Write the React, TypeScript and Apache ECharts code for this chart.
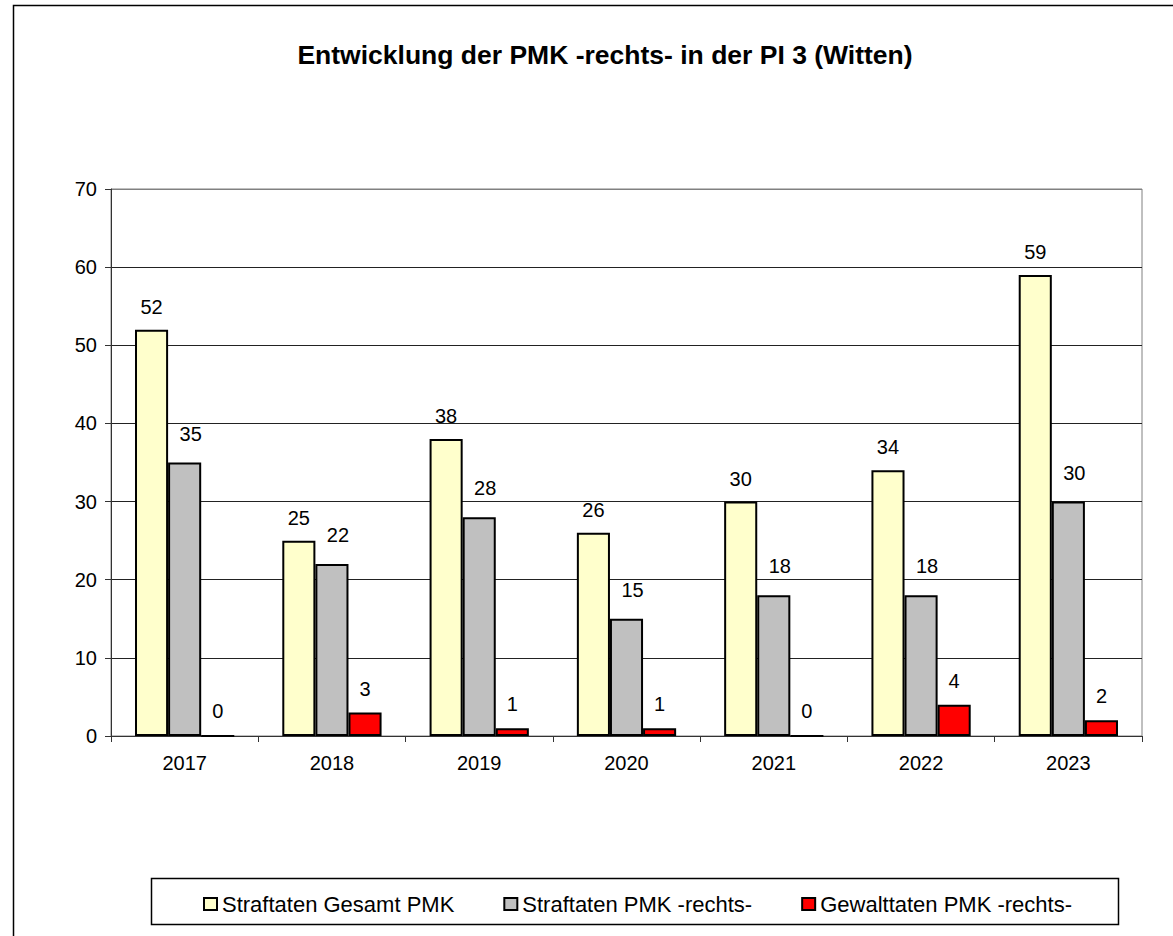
import React, { useEffect, useRef } from "react";
import * as echarts from "echarts";

const years = ["2017", "2018", "2019", "2020", "2021", "2022", "2023"];
const gesamt = [52, 25, 38, 26, 30, 34, 59];
const rechts = [35, 22, 28, 15, 18, 18, 30];
const gewalt = [0, 3, 1, 1, 0, 4, 2];
const seriesNames = ["Straftaten Gesamt PMK", "Straftaten PMK -rechts-", "Gewalttaten PMK -rechts-"];
const titleText = "Entwicklung der PMK -rechts- in der PI 3 (Witten)";

const FONT = "'Liberation Sans', Arial, sans-serif";

export default function App() {
  const ref = useRef<HTMLDivElement>(null);
  useEffect(() => {
    if (!ref.current) return;
    const chart = echarts.init(ref.current, undefined, { renderer: "svg" });
    const labelBase = { show: true, position: "top", color: "#000", fontSize: 20, fontFamily: FONT };
    const barBase = { type: "bar", barGap: "0%", barCategoryGap: "32.6%" };
    chart.setOption({
      animation: false,
      backgroundColor: "#fff",
      textStyle: { fontFamily: FONT },
      title: {
        text: titleText,
        left: 600,
        top: 36,
        textAlign: "center",
        textStyle: { fontSize: 26.5, fontWeight: "bold", color: "#000", fontFamily: FONT },
      },
      legend: {
        data: seriesNames,
        left: 198,
        top: 888,
        icon: "rect",
        itemWidth: 13,
        itemHeight: 12,
        itemGap: 49,
        textStyle: { fontSize: 22, color: "#000", fontFamily: FONT },
      },
      grid: { left: 111, right: 31, top: 189, bottom: 200, show: true, borderColor: "#808080", borderWidth: 1 },
      xAxis: {
        type: "category",
        data: years,
        axisLine: { lineStyle: { color: "#333", width: 1 } },
        axisTick: { show: true, length: 6, lineStyle: { color: "#333" } },
        axisLabel: { fontSize: 20, color: "#000", margin: 17, fontFamily: FONT },
      },
      yAxis: {
        type: "value",
        min: 0,
        max: 70,
        interval: 10,
        axisLine: { show: true, lineStyle: { color: "#333", width: 1 } },
        axisTick: { show: true, length: 6, lineStyle: { color: "#333" } },
        axisLabel: { fontSize: 20, color: "#000", margin: 14, fontFamily: FONT },
        splitLine: {
          show: true,
          lineStyle: {
            color: ["#222", "#222", "#222", "#222", "#222", "#222", "#222", "#808080"],
            width: 1,
          },
        },
      },
      graphic: [
        {
          type: "rect",
          shape: { x: 13.5, y: 5.5, width: 1200, height: 1000 },
          style: { fill: "none", stroke: "#000", lineWidth: 1.5 },
          silent: true,
          z: -1,
        },
        {
          type: "rect",
          shape: { x: 151.5, y: 878.5, width: 967, height: 46 },
          style: { fill: "none", stroke: "#000", lineWidth: 1.5 },
          silent: true,
        },
      ],
      series: [
        {
          ...barBase,
          name: seriesNames[0],
          data: gesamt,
          itemStyle: { color: "#FFFFCC", borderColor: "#000", borderWidth: 2 },
          label: { ...labelBase, distance: 13 },
        },
        {
          ...barBase,
          name: seriesNames[1],
          data: rechts,
          itemStyle: { color: "#C0C0C0", borderColor: "#000", borderWidth: 2 },
          label: { ...labelBase, distance: 19, offset: [6, 0] },
        },
        {
          ...barBase,
          name: seriesNames[2],
          data: gewalt,
          itemStyle: { color: "#FF0000", borderColor: "#000", borderWidth: 2 },
          label: { ...labelBase, distance: 14 },
        },
      ],
    });
    return () => chart.dispose();
  }, []);
  return <div ref={ref} style={{ position: "absolute", left: 0, top: 0, width: 1173, height: 936 }} />;
}
